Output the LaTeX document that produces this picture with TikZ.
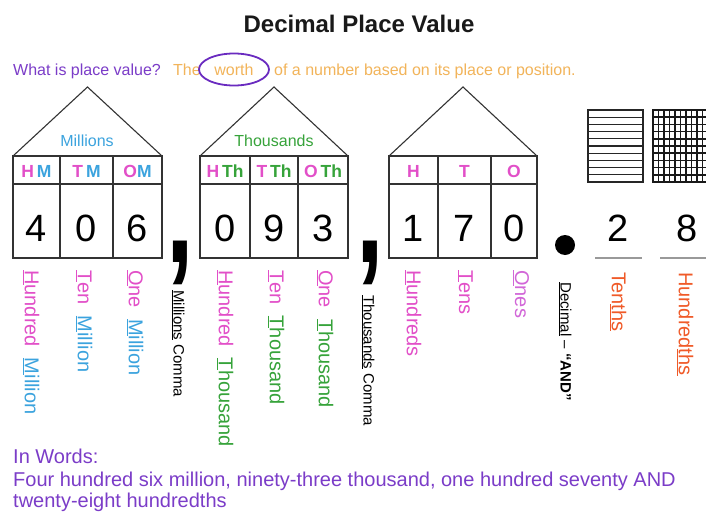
\documentclass[tikz,border=0pt]{standalone}
\usepackage{fontspec}
\setmainfont{Liberation Sans}
\usepackage{graphicx}
\usetikzlibrary{shapes.geometric}
\definecolor{pinkc}{HTML}{E24FC8}
\definecolor{bluec}{HTML}{3BA3DE}
\definecolor{greenc}{HTML}{36A33A}
\definecolor{purplec}{HTML}{7B3CC8}
\definecolor{ringc}{HTML}{6A2BC0}
\definecolor{orangec}{HTML}{F2B45A}
\definecolor{redc}{HTML}{F05A28}
\definecolor{onesc}{HTML}{D266D8}
\definecolor{linec}{HTML}{333333}
\begin{document}
\begin{tikzpicture}[x=1pt,y=-1pt,
  houseline/.style={draw=linec, line width=1.1pt},
  digit/.style={anchor=base, inner sep=0, font=\fontsize{38}{40}\selectfont},
  headtxt/.style={anchor=base, inner sep=0, font=\fontsize{17.5}{19}\selectfont\bfseries},
  vlab/.style={anchor=west, rotate=-90, inner sep=0, font=\fontsize{20}{22}\selectfont},
  vsmall/.style={anchor=west, rotate=-90, inner sep=0, font=\fontsize{15}{17}\selectfont},
  subtxt/.style={anchor=base west, inner sep=0, font=\fontsize{16}{18}\selectfont},
  wordtxt/.style={anchor=base west, inner sep=0, text=purplec, font=\fontsize{20}{22}\selectfont},
  bigcomma/.style={anchor=base, inner sep=0, font=\fontsize{90}{90}\selectfont\bfseries},
  gridline/.style={draw=black!85, line width=1.3pt},
  finegrid/.style={draw=black!90, line width=1.6pt}
]
\useasboundingbox (0,0) rectangle (706,511);
\fill[white] (0,0) rectangle (706,511);

% title
\node[anchor=base, inner sep=0, font=\fontsize{24}{26}\selectfont\bfseries, text=black!90] (title) at (359,33) {Decimal Place Value};

% subtitle
\node[subtxt, text=purplec] (q) at (13,75) {What is place value?};
\node[subtxt, text=orangec] (the) at (173,75) {The};
\node[draw=ringc, line width=1.8pt, ellipse, minimum width=70pt, minimum height=32pt, inner sep=0,
      text=orangec, font=\fontsize{16}{18}\selectfont] (worth) at (234,69.5) {worth};
\node[subtxt, text=orangec] (rest) at (274,75) {of a number based on its place or position.};

% houses
\foreach \L/\A/\B/\R in {13/60/113/162, 200/250/298/348, 389/438/491/537}{
  \draw[houseline] (\L,156) -- ({(\L+\R)/2},87) -- (\R,156);
  \draw[houseline] (\L,156) rectangle (\R,258);
  \draw[houseline] (\L,184) -- (\R,184);
  \draw[houseline] (\A,156) -- (\A,258);
  \draw[houseline] (\B,156) -- (\B,258);
}

% group names
\node[anchor=base, inner sep=0, text=bluec, font=\fontsize{16}{18}\selectfont] (millions) at (87,146) {Millions};
\node[anchor=base, inner sep=0, text=greenc, font=\fontsize{16}{18}\selectfont] (thousands) at (274,146) {Thousands};

% headers
\node[headtxt] (h1) at (36.5,177) {\textcolor{pinkc}{H}\,\textcolor{bluec}{M}};
\node[headtxt] (h2) at (86.5,177) {\textcolor{pinkc}{T}\,\textcolor{bluec}{M}};
\node[headtxt] (h3) at (137.5,177) {\textcolor{pinkc}{O}\textcolor{bluec}{M}};
\node[headtxt] (h4) at (225,177) {\textcolor{pinkc}{H}\,\textcolor{greenc}{Th}};
\node[headtxt] (h5) at (274,177) {\textcolor{pinkc}{T}\,\textcolor{greenc}{Th}};
\node[headtxt] (h6) at (323,177) {\textcolor{pinkc}{O}\,\textcolor{greenc}{Th}};
\node[headtxt, text=pinkc] (h7) at (413.5,177) {H};
\node[headtxt, text=pinkc] (h8) at (464.5,177) {T};
\node[headtxt, text=pinkc] (h9) at (514,177) {O};

% digits
\node[digit] (d1) at (36.5,241) {4};
\node[digit] (d2) at (86.5,241) {0};
\node[digit] (d3) at (137.5,241) {6};
\node[digit] (d4) at (225,241) {0};
\node[digit] (d5) at (274,241) {9};
\node[digit] (d6) at (323,241) {3};
\node[digit] (d7) at (413.5,241) {1};
\node[digit] (d8) at (464.5,241) {7};
\node[digit] (d9) at (514,241) {0};
\node[digit] (d10) at (618,241) {2};
\node[digit] (d11) at (687,241) {8};

% commas and decimal point
\node[bigcomma] (comma1) at (180,262) {\scalebox{1.1}[1.6]{,}};
\node[bigcomma] (comma2) at (370,262) {\scalebox{1.1}[1.6]{,}};
\fill[black] (565,245) circle[radius=10pt];

% decimal grids
\fill[white] (588,110) rectangle (643,182);
\draw[gridline] (588,110) rectangle (643,182);
\foreach \i in {1,...,9}{\draw[gridline] (588,{110+7.2*\i}) -- (643,{110+7.2*\i});}
\draw[finegrid] (653,110) rectangle (708,182);
\foreach \i in {1,...,9}{
  \draw[finegrid] (653,{110+7.2*\i}) -- (708,{110+7.2*\i});
  \draw[finegrid] ({653+5.5*\i},110) -- ({653+5.5*\i},182);
}

% underlines of decimal places
\draw[black!40, line width=1.5pt] (595,258) -- (642,258);
\draw[black!40, line width=1.5pt] (660,258) -- (720,258);

% vertical labels
\node[vlab] (l1) at (31,270) {\textcolor{pinkc}{\underline{H}undred}\hspace{0.55em}\textcolor{bluec}{\underline{M}illion}};
\node[vlab] (l2) at (84,270) {\textcolor{pinkc}{\underline{T}en}\hspace{0.55em}\textcolor{bluec}{\underline{M}illion}};
\node[vlab] (l3) at (135,270) {\textcolor{pinkc}{\underline{O}ne}\hspace{0.55em}\textcolor{bluec}{\underline{M}illion}};
\node[vsmall] (l4) at (178,290) {\underline{Millions} Comma};
\node[vlab] (l5) at (225,270) {\textcolor{pinkc}{\underline{H}undred}\hspace{0.55em}\textcolor{greenc}{\underline{T}housand}};
\node[vlab] (l6) at (276,270) {\textcolor{pinkc}{\underline{T}en}\hspace{0.55em}\textcolor{greenc}{\underline{T}housand}};
\node[vlab] (l7) at (325,270) {\textcolor{pinkc}{\underline{O}ne}\hspace{0.55em}\textcolor{greenc}{\underline{T}housand}};
\node[vsmall] (l8) at (368,295) {\underline{Thousands} Comma};
\node[vlab, text=pinkc] (l9) at (413,270) {\underline{H}undreds};
\node[vlab, text=pinkc] (l10) at (465,270) {\underline{T}ens};
\node[vlab, text=onesc] (l11) at (521,270) {\underline{O}nes};
\node[vsmall] (l12) at (565,282) {\underline{Decimal} -- \textbf{``AND''}};
\node[vlab, text=redc] (l13) at (618,272) {Ten\underline{ths}};
\node[vlab, text=redc] (l14) at (685,272) {Hundred\underline{ths}};

% in words
\node[wordtxt] (w1) at (13,463) {In Words:};
\node[wordtxt] (w2) at (13,486) {Four hundred six million, ninety-three thousand, one hundred seventy AND};
\node[wordtxt] (w3) at (13,507) {twenty-eight hundredths};
\end{tikzpicture}
\end{document}
